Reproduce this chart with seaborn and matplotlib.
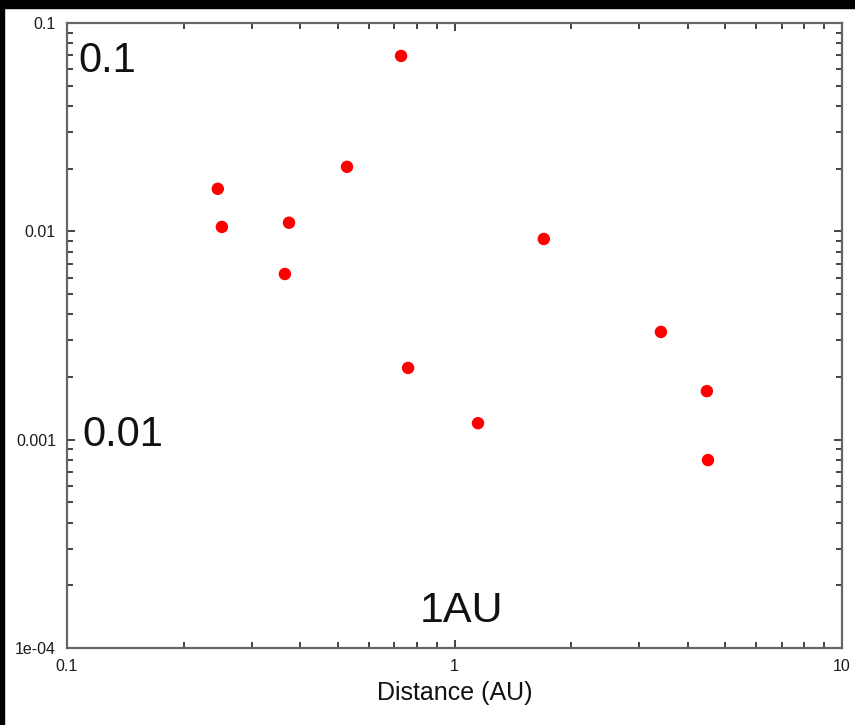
import matplotlib
matplotlib.use("Agg")
import matplotlib.pyplot as plt
import seaborn as sns
import pandas as pd
from matplotlib.patches import Rectangle
from matplotlib.ticker import FixedLocator, FixedFormatter, LogLocator, NullFormatter

distance_au = [0.245, 0.251, 0.374, 0.365, 0.528, 0.728, 0.759, 1.15, 1.70, 3.41, 4.48, 4.51]
value = [0.0160, 0.0105, 0.0110, 0.00624, 0.0204, 0.0695, 0.00221, 0.00120, 0.00919, 0.00329, 0.00171, 0.000798]

x_ticks = [0.1, 1, 10]
x_tick_labels = ["0.1", "1", "10"]
y_ticks = [1e-4, 1e-3, 1e-2, 1e-1]
y_tick_labels = ["1e-04", "0.001", "0.01", "0.1"]

df = pd.DataFrame({"Distance (AU)": distance_au, "value": value})

sns.set_style("ticks")
plt.rcParams['font.family'] = ['Liberation Sans', 'DejaVu Sans']

W, H = 855, 725
fig = plt.figure(figsize=(W / 100, H / 100), dpi=100)
fig.patch.set_facecolor("white")
ax = fig.add_axes([67 / W, (H - 648) / H, (842 - 67) / W, (648 - 23) / H])

sns.scatterplot(data=df, x="Distance (AU)", y="value", ax=ax, color="#ff0000",
                edgecolor="none", s=80, linewidth=0, zorder=3)

ax.set_xscale("log")
ax.set_yscale("log")
ax.set_xlim(0.1, 10)
ax.set_ylim(1e-4, 0.1)

ax.xaxis.set_major_locator(FixedLocator(x_ticks))
ax.xaxis.set_major_formatter(FixedFormatter(x_tick_labels))
ax.yaxis.set_major_locator(FixedLocator(y_ticks))
ax.yaxis.set_major_formatter(FixedFormatter(y_tick_labels))
ax.xaxis.set_minor_locator(LogLocator(base=10, subs=range(2, 10)))
ax.yaxis.set_minor_locator(LogLocator(base=10, subs=range(2, 10)))
ax.xaxis.set_minor_formatter(NullFormatter())
ax.yaxis.set_minor_formatter(NullFormatter())

ax.tick_params(which="both", direction="in", top=True, right=True, color="#222222", width=1.2)
ax.tick_params(which="major", length=6, labelsize=11.5, labelcolor="#1a1a1a", pad=8)
ax.tick_params(which="minor", length=4)
for sp in ax.spines.values():
    sp.set_color("#666666")
    sp.set_linewidth(1.6)

ax.set_ylabel("")
ax.set_xlabel("Distance (AU)", fontsize=18, color="#111111", labelpad=5)

ax.text(0.0142, 0.9216, "0.1", transform=ax.transAxes, fontsize=30, va="baseline", ha="left", color="#111111")
ax.text(0.0194, 0.323, "0.01", transform=ax.transAxes, fontsize=30, va="baseline", ha="left", color="#111111")
ax.text(0.4555, 0.0416, "1AU", transform=ax.transAxes, fontsize=31, va="baseline", ha="left", color="#111111")

fig.patches.append(Rectangle((0, 1 - 8 / H), 1, 8 / H, transform=fig.transFigure, color="black", zorder=10))
fig.patches.append(Rectangle((0, 0), 4 / W, 1, transform=fig.transFigure, color="black", zorder=10))

fig.savefig("out.png", dpi=100)
